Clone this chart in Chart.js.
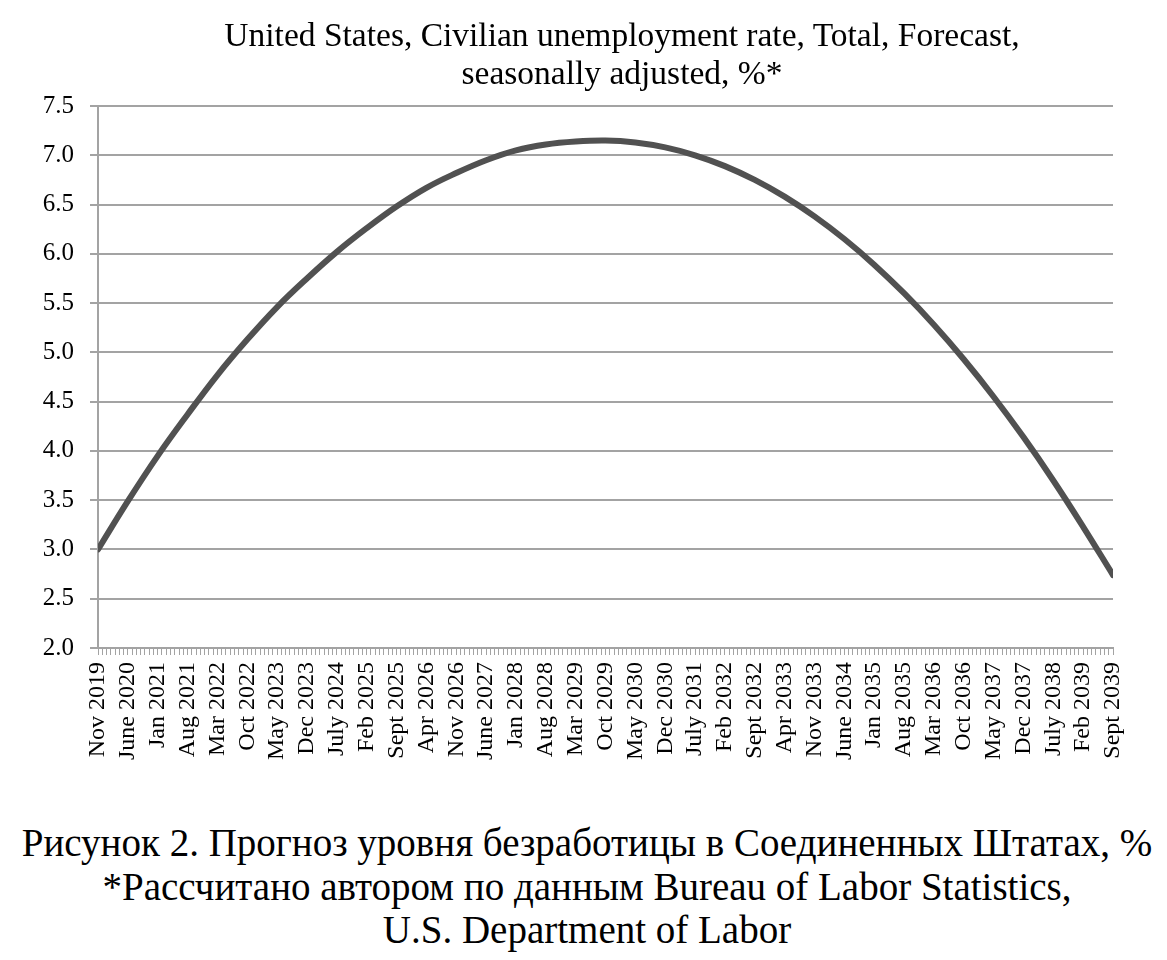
<!DOCTYPE html>
<html>
<head>
<meta charset="utf-8">
<script src="https://cdn.jsdelivr.net/npm/chart.js@4/dist/chart.umd.min.js"></script>
<style>
  html, body { margin: 0; padding: 0; background: #fff; overflow: hidden; }
  #wrap { position: relative; width: 1167px; height: 960px; }
  #box { position: absolute; left: 0; top: 0; width: 1167px; height: 790px; }
  .txt {
    position: absolute; text-align: center; color: #000;
    font-family: 'Liberation Serif', serif;
  }
  #title { left: 72px; width: 1100px; top: 16px; font-size: 33.5px; line-height: 38px; }
  #caption { left: 0; width: 1174px; top: 821px; font-size: 39px; line-height: 43.5px; }
</style>
</head>
<body>
<div id="wrap">
  <div id="box"><canvas id="chart"></canvas></div>
  <div id="title" class="txt">
    United States, Civilian unemployment rate, Total, Forecast,<br>
    seasonally adjusted, %*
  </div>
  <div id="caption" class="txt">
    Рисунок 2. Прогноз уровня безработицы в Соединенных Штатах, %<br>
    *Рассчитано автором по данным Bureau of Labor Statistics,<br>
    U.S. Department of Labor
  </div>
</div>
<script>
// labelled months, one every 7 months (monthly ticks in between)
const tickLabels = [
  'Nov 2019', 'June 2020', 'Jan 2021', 'Aug 2021', 'Mar 2022', 'Oct 2022', 'May 2023',
  'Dec 2023', 'July 2024', 'Feb 2025', 'Sept 2025', 'Apr 2026', 'Nov 2026', 'June 2027',
  'Jan 2028', 'Aug 2028', 'Mar 2029', 'Oct 2029', 'May 2030', 'Dec 2030', 'July 2031',
  'Feb 2032', 'Sept 2032', 'Apr 2033', 'Nov 2033', 'June 2034', 'Jan 2035', 'Aug 2035',
  'Mar 2036', 'Oct 2036', 'May 2037', 'Dec 2037', 'July 2038', 'Feb 2039', 'Sept 2039'
];
const monthStep = 7;
const totalMonths = 238;

// forecast values read at each labelled month
const rateValues = [
  3.00, 3.49, 3.95, 4.37, 4.77, 5.13, 5.46, 5.75, 6.02, 6.26, 6.48, 6.67,
  6.82, 6.95, 7.05, 7.11, 7.14, 7.15, 7.13, 7.08, 7.00, 6.89, 6.75, 6.58,
  6.38, 6.15, 5.89, 5.60, 5.28, 4.93, 4.55, 4.14, 3.70, 3.23, 2.74
];

const yTicks = [2.0, 2.5, 3.0, 3.5, 4.0, 4.5, 5.0, 5.5, 6.0, 6.5, 7.0, 7.5];

const FONT = "'Liberation Serif', serif";
const GRID = '#a3a3a3';

const points = rateValues.map((v, i) => ({ x: i * monthStep, y: v }));

new Chart(document.getElementById('chart'), {
  type: 'line',
  data: {
    datasets: [{
      data: points,
      borderColor: '#515151',
      borderWidth: 6,
      borderCapStyle: 'round',
      pointRadius: 0,
      tension: 0.4,
      fill: false,
    }],
  },
  options: {
    responsive: true,
    maintainAspectRatio: false,
    animation: false,
    layout: { padding: { left: 0, right: 54, top: 106, bottom: 0 } },
    plugins: {
      legend: { display: false },
      tooltip: { enabled: false },
      title: { display: false },
    },
    scales: {
      x: {
        type: 'linear',
        min: 0,
        max: totalMonths,
        afterFit: (s) => { s.height = 142; },
        border: { display: true, color: GRID, width: 2 },
        grid: { drawOnChartArea: false, drawTicks: true, tickLength: 7, color: GRID, lineWidth: 1 },
        ticks: {
          stepSize: 1,
          autoSkip: false,
          maxRotation: 90,
          minRotation: 90,
          padding: 7,
          color: '#000',
          font: { family: FONT, size: 24 },
          callback: (v) => (v % monthStep === 0 ? tickLabels[v / monthStep] : ''),
        },
      },
      y: {
        min: 2,
        max: 7.5,
        afterFit: (s) => { s.width = 98; },
        afterBuildTicks: (s) => { s.ticks = yTicks.map((v) => ({ value: v })); },
        border: { display: true, color: GRID, width: 2 },
        grid: { color: GRID, lineWidth: 2, tickLength: 8 },
        ticks: {
          padding: 16,
          color: '#000',
          font: { family: FONT, size: 25 },
          callback: (v) => v.toFixed(1),
        },
      },
    },
  },
});
</script>
</body>
</html>
